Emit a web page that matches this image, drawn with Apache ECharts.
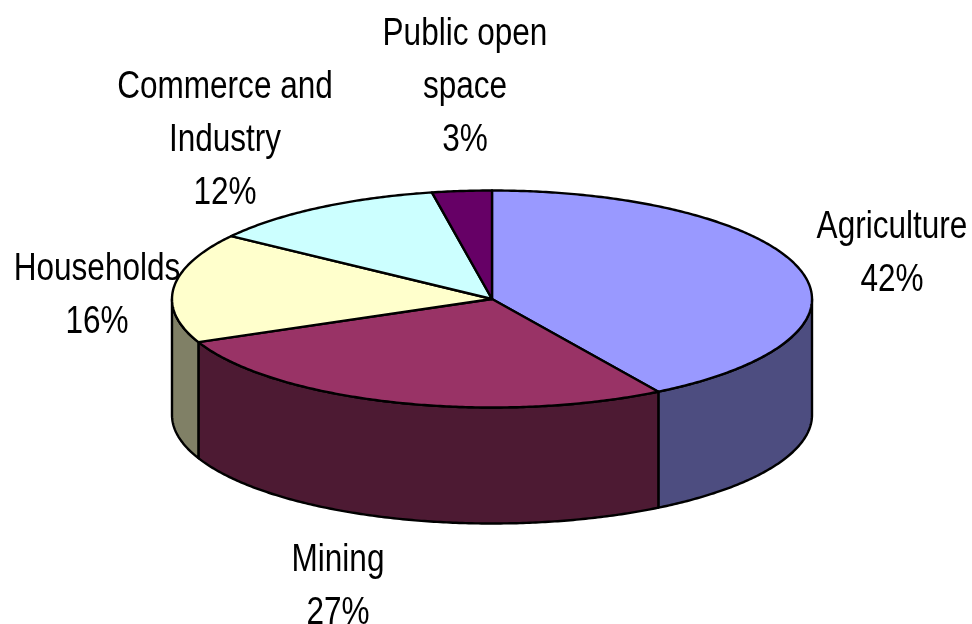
<!DOCTYPE html>
<html>
<head>
<meta charset="utf-8">
<title>Land use</title>
<script src="https://cdn.jsdelivr.net/npm/echarts@6/dist/echarts.min.js"></script>
<style>
  html, body { margin: 0; padding: 0; background: #fff; }
  #chart { width: 972px; height: 624px; }
</style>
</head>
<body>
<div id="chart"></div>
<script>
const categories = ["Agriculture", "Mining", "Households", "Commerce and\nIndustry", "Public open\nspace"];
const shares = [42, 27, 16, 12, 3];
const topColors = ["#9999ff", "#993366", "#ffffcc", "#ccffff", "#660066"];
const sideColors = ["#4d4d80", "#4d1a33", "#808066", "#668080", "#330033"];
// centre of the first label line, by hand from the picture
const labelSpots = [[892, 228], [338, 561], [97, 270], [225, 88], [465, 35]];

const cx = 492, cy = 299, rx = 320, ry = 108.5, depth = 116;
const lineHeight = 53;
const total = shares.reduce((a, b) => a + b, 0);

function rim(t, drop) {
  return [cx + rx * Math.sin(t), cy - ry * Math.cos(t) + drop];
}

function arc(from, to, drop) {
  const steps = Math.max(2, Math.ceil((to - from) / 0.01));
  const pts = [];
  for (let i = 0; i <= steps; i++) {
    pts.push(rim(from + ((to - from) * i) / steps, drop));
  }
  return pts;
}

// the tilted view squeezes the near side of the disc a little
function tilt(t) {
  return t - (0.047 * (1 - Math.cos(t))) / 2;
}

function renderSlice(params, api) {
  const i = params.dataIndex;
  const before = shares.slice(0, i).reduce((a, b) => a + b, 0);
  const start = (before / total) * Math.PI * 2;
  const from = tilt(start);
  const to = tilt(start + (api.value(0) / total) * Math.PI * 2);
  const children = [];

  // wall only shows on the front half of the disc
  const a = Math.max(from, Math.PI / 2);
  const b = Math.min(to, (Math.PI * 3) / 2);
  if (b > a) {
    children.push({
      type: "polygon",
      shape: { points: arc(a, b, 0).concat(arc(a, b, depth).reverse()) },
      style: { fill: sideColors[i], stroke: "#000", lineWidth: 2.4, lineJoin: "round" },
    });
  }
  children.push({
    type: "polygon",
    shape: { points: [[cx, cy]].concat(arc(from, to, 0)) },
    style: { fill: topColors[i], stroke: "#000", lineWidth: 2.4, lineJoin: "round" },
  });
  return { type: "group", children };
}

function renderLabel(params, api) {
  const i = params.dataIndex;
  const spot = labelSpots[i];
  return {
    type: "text",
    x: spot[0],
    y: spot[1] - lineHeight / 2,
    scaleX: 0.83,
    style: {
      text: categories[i] + "\n" + api.value(0) + "%",
      fill: "#000",
      font: '38px "Liberation Sans", Arial, sans-serif',
      lineHeight: lineHeight,
      align: "center",
      verticalAlign: "top",
    },
  };
}

const chart = echarts.init(document.getElementById("chart"));
chart.setOption({
  animation: false,
  backgroundColor: "#fff",
  series: [
    {
      type: "custom",
      coordinateSystem: "none",
      renderItem: renderSlice,
      data: shares.map((v) => [v]),
      silent: true,
    },
    {
      type: "custom",
      coordinateSystem: "none",
      renderItem: renderLabel,
      data: shares.map((v) => [v]),
      silent: true,
      z: 3,
    },
  ],
});
</script>
</body>
</html>
